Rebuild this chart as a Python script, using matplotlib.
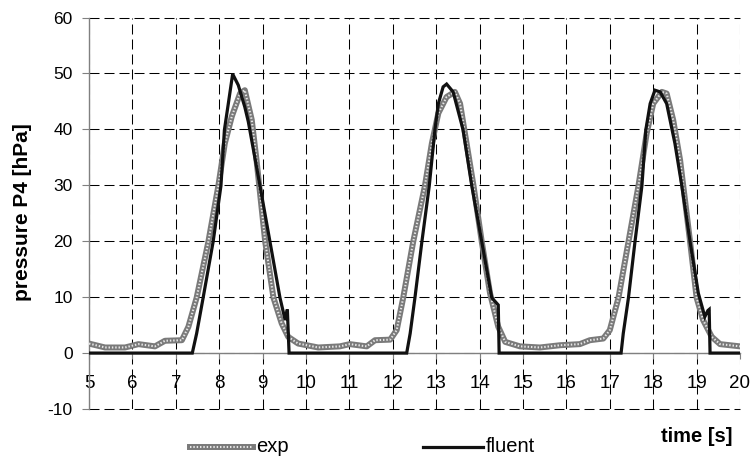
import matplotlib
matplotlib.use("Agg")
import matplotlib.pyplot as plt
from matplotlib.lines import Line2D

plt.rcParams['font.family'] = ['Liberation Sans', 'DejaVu Sans']

# experimental series (time [s], pressure [hPa])
exp_t = [5.0, 5.37, 5.83, 6.14, 6.52, 6.75, 7.14, 7.29, 7.48, 7.75, 7.98, 8.13, 8.29, 8.48, 8.59,
         8.75, 8.86, 9.06, 9.25, 9.44, 9.59, 9.82, 10.28, 10.78, 11.01, 11.40, 11.59, 11.94,
         12.09, 12.24, 12.47, 12.74, 12.90, 13.05, 13.24, 13.43, 13.55, 13.70, 13.86, 14.05,
         14.24, 14.43, 14.59, 14.93, 15.39, 15.85, 16.31, 16.54, 16.85, 17.00, 17.20, 17.43,
         17.66, 17.85, 18.00, 18.20, 18.31, 18.46, 18.62, 18.85, 19.00, 19.15, 19.35, 19.54, 20.0]
exp_p = [1.7, 1.0, 1.0, 1.6, 1.2, 2.2, 2.3, 4.7, 9.9, 19.9, 29.9, 37.5, 42.3, 46.4, 47.0,
         41.7, 34.5, 19.9, 9.9, 5.3, 2.9, 1.7, 1.0, 1.2, 1.6, 1.2, 2.3, 2.4,
         4.1, 9.9, 19.9, 29.9, 37.5, 42.9, 45.8, 46.7, 44.6, 37.5, 29.9, 19.9,
         10.7, 4.7, 2.0, 1.2, 1.0, 1.4, 1.6, 2.3, 2.6, 4.1, 9.9, 19.9,
         29.9, 39.3, 44.6, 46.7, 46.4, 41.7, 34.5, 19.9, 9.9, 5.9, 2.9, 1.6, 1.2]

# simulation series
fl_t = [5.0, 7.38, 7.48, 7.63, 7.86, 8.04, 8.12, 8.21, 8.31, 8.44, 8.59, 8.67, 8.94, 9.17,
        9.40, 9.52, 9.57, 9.61, 12.32, 12.40, 12.51, 12.67, 12.84, 12.97, 13.05, 13.16, 13.24,
        13.39, 13.62, 13.82, 14.05, 14.28, 14.43, 14.45, 17.26, 17.31, 17.43, 17.58, 17.74,
        17.83, 17.93, 18.04, 18.16, 18.31, 18.50, 18.66, 18.85, 19.04, 19.19, 19.26, 19.29,
        19.31, 20.0]
fl_p = [0.0, 0.0, 3.5, 9.9, 19.9, 29.9, 39.9, 44.6, 49.9, 47.9, 44.0, 41.4, 29.9, 19.9,
        9.9, 5.9, 7.8, 0.0, 0.0, 3.5, 9.9, 19.9, 29.9, 39.9, 44.6, 47.6, 48.1,
        46.7, 39.9, 29.9, 19.9, 9.9, 8.6, 0.0, 0.0, 3.5, 9.9, 19.9, 29.9,
        39.9, 44.6, 47.0, 46.7, 44.6, 37.5, 29.9, 19.9, 10.7, 6.5, 7.6, 7.8,
        0.0, 0.0]

x_ticks = list(range(5, 21))
y_ticks = [-10, 0, 10, 20, 30, 40, 50, 60]

W, H = 753, 457
fig = plt.figure(figsize=(W / 100, H / 100), dpi=100)
L, R, T, B = 89, 740, 17.5, 409
ax = fig.add_axes([L / W, 1 - B / H, (R - L) / W, (B - T) / H])
ax.set_xlim(5, 20)
ax.set_ylim(-10, 60)
ax.set_xticks(x_ticks)
ax.set_yticks(y_ticks)
ax.set_xticklabels([str(v) for v in x_ticks])
ax.set_yticklabels([str(v) for v in y_ticks])

dash = (0, (9.6, 4.8))
ax.grid(True, color='black', linestyle=dash, linewidth=0.75)
for gl in ax.get_xgridlines() + ax.get_ygridlines():
    gl.set_clip_on(False)

for s in ['top', 'right']:
    ax.spines[s].set_visible(False)
ax.spines['left'].set_color('#808080')
ax.spines['left'].set_linewidth(1.0)
ax.spines['bottom'].set_position(('data', 0))
ax.spines['bottom'].set_color('#808080')
ax.spines['bottom'].set_linewidth(1.0)
ax.tick_params(axis='x', direction='out', length=4, width=0.8, color='#808080',
               pad=12, labelsize=13.5)
ax.tick_params(axis='y', direction='out', length=4.8, width=0.8, color='#808080',
               pad=7, labelsize=12.5)

# exp: textured gray band
ax.plot(exp_t, exp_p, color='#7a7a7a', linewidth=4.3, solid_joinstyle='round', zorder=3)
ax.plot(exp_t, exp_p, color='#e6e6e6', linewidth=1.5, linestyle=(0, (0.7, 0.9)), zorder=3.1)
# fluent
ax.plot(fl_t, fl_p, color='#111111', linewidth=2.3, solid_joinstyle='miter', zorder=4)

# legend (manual)
def fx(px):
    return px / W
def fy(py):
    return 1 - py / H
ly = 447
fig.add_artist(Line2D([fx(190), fx(253)], [fy(ly), fy(ly)], color='#7a7a7a', linewidth=4.3))
fig.add_artist(Line2D([fx(190), fx(253)], [fy(ly), fy(ly)], color='#e6e6e6', linewidth=1.5,
                      linestyle=(0, (0.7, 0.9))))
fig.text(fx(256), fy(ly), 'exp', fontsize=14.5, va='center', ha='left')
fig.add_artist(Line2D([fx(423), fx(483)], [fy(ly), fy(ly)], color='#111111', linewidth=2.3))
fig.text(fx(486), fy(ly), 'fluent', fontsize=14.5, va='center', ha='left')

fig.text(fx(697), fy(436), 'time [s]', fontsize=14.5, fontweight='bold', ha='center', va='center')
fig.text(fx(23), fy(212), 'pressure P4 [hPa]', fontsize=15, fontweight='bold',
         rotation=90, ha='center', va='center')

fig.savefig('out.png', dpi=100)
